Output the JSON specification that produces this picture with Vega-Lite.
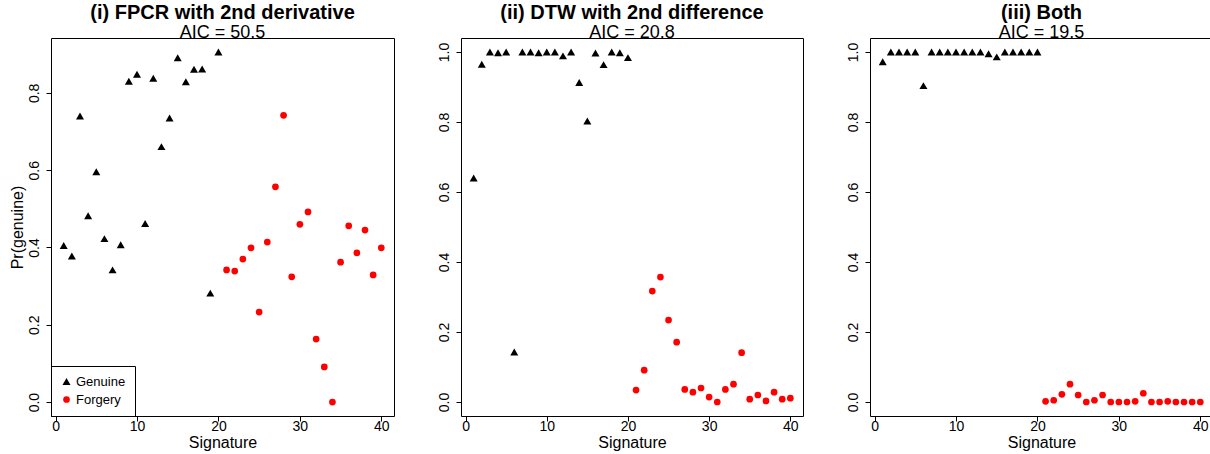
{
  "$schema": "https://vega.github.io/schema/vega-lite/v6.json",
  "background": "white",
  "padding": {"left": 8, "top": 2, "right": 0, "bottom": 0},
  "bounds": "flush",
  "spacing": 67,
  "config": {
    "font": "Liberation Sans",
    "view": {"stroke": "black", "strokeWidth": 1},
    "axis": {
      "domain": false, "grid": false, "ticks": true, "tickSize": 5, "tickColor": "black",
      "labelFont": "Liberation Sans", "labelFontSize": 14, "labelColor": "black",
      "titleFont": "Liberation Sans", "titleFontSize": 16, "titleFontWeight": "normal", "titleColor": "black"
    },
    "title": {
      "font": "Liberation Sans", "fontSize": 20, "fontWeight": "bold", "color": "black", "anchor": "middle",
      "subtitleFont": "Liberation Sans", "subtitleFontSize": 18, "subtitleColor": "black", "subtitlePadding": 1, "offset": -4
    },
    "legend": {
      "labelFont": "Liberation Sans", "labelFontSize": 13, "labelColor": "black"
    }
  },
  "datasets": {
    "fpcr": [
      {"sig": 1, "p": 0.405, "type": "Genuine"}, {"sig": 2, "p": 0.378, "type": "Genuine"},
      {"sig": 3, "p": 0.740, "type": "Genuine"}, {"sig": 4, "p": 0.482, "type": "Genuine"},
      {"sig": 5, "p": 0.596, "type": "Genuine"}, {"sig": 6, "p": 0.423, "type": "Genuine"},
      {"sig": 7, "p": 0.342, "type": "Genuine"}, {"sig": 8, "p": 0.407, "type": "Genuine"},
      {"sig": 9, "p": 0.830, "type": "Genuine"}, {"sig": 10, "p": 0.848, "type": "Genuine"},
      {"sig": 11, "p": 0.462, "type": "Genuine"}, {"sig": 12, "p": 0.838, "type": "Genuine"},
      {"sig": 13, "p": 0.661, "type": "Genuine"}, {"sig": 14, "p": 0.735, "type": "Genuine"},
      {"sig": 15, "p": 0.891, "type": "Genuine"}, {"sig": 16, "p": 0.829, "type": "Genuine"},
      {"sig": 17, "p": 0.861, "type": "Genuine"}, {"sig": 18, "p": 0.862, "type": "Genuine"},
      {"sig": 19, "p": 0.282, "type": "Genuine"}, {"sig": 20, "p": 0.906, "type": "Genuine"},
      {"sig": 21, "p": 0.342, "type": "Forgery"}, {"sig": 22, "p": 0.339, "type": "Forgery"},
      {"sig": 23, "p": 0.370, "type": "Forgery"}, {"sig": 24, "p": 0.399, "type": "Forgery"},
      {"sig": 25, "p": 0.233, "type": "Forgery"}, {"sig": 26, "p": 0.414, "type": "Forgery"},
      {"sig": 27, "p": 0.557, "type": "Forgery"}, {"sig": 28, "p": 0.742, "type": "Forgery"},
      {"sig": 29, "p": 0.324, "type": "Forgery"}, {"sig": 30, "p": 0.460, "type": "Forgery"},
      {"sig": 31, "p": 0.492, "type": "Forgery"}, {"sig": 32, "p": 0.163, "type": "Forgery"},
      {"sig": 33, "p": 0.091, "type": "Forgery"}, {"sig": 34, "p": 0.000, "type": "Forgery"},
      {"sig": 35, "p": 0.362, "type": "Forgery"}, {"sig": 36, "p": 0.456, "type": "Forgery"},
      {"sig": 37, "p": 0.386, "type": "Forgery"}, {"sig": 38, "p": 0.445, "type": "Forgery"},
      {"sig": 39, "p": 0.329, "type": "Forgery"}, {"sig": 40, "p": 0.399, "type": "Forgery"}
    ],
    "dtw": [
      {"sig": 1, "p": 0.640, "type": "Genuine"}, {"sig": 2, "p": 0.965, "type": "Genuine"},
      {"sig": 3, "p": 1.000, "type": "Genuine"}, {"sig": 4, "p": 0.998, "type": "Genuine"},
      {"sig": 5, "p": 1.000, "type": "Genuine"}, {"sig": 6, "p": 0.143, "type": "Genuine"},
      {"sig": 7, "p": 1.000, "type": "Genuine"}, {"sig": 8, "p": 1.000, "type": "Genuine"},
      {"sig": 9, "p": 0.998, "type": "Genuine"}, {"sig": 10, "p": 1.000, "type": "Genuine"},
      {"sig": 11, "p": 1.000, "type": "Genuine"}, {"sig": 12, "p": 0.989, "type": "Genuine"},
      {"sig": 13, "p": 1.000, "type": "Genuine"}, {"sig": 14, "p": 0.913, "type": "Genuine"},
      {"sig": 15, "p": 0.803, "type": "Genuine"}, {"sig": 16, "p": 0.997, "type": "Genuine"},
      {"sig": 17, "p": 0.964, "type": "Genuine"}, {"sig": 18, "p": 1.000, "type": "Genuine"},
      {"sig": 19, "p": 0.998, "type": "Genuine"}, {"sig": 20, "p": 0.984, "type": "Genuine"},
      {"sig": 21, "p": 0.034, "type": "Forgery"}, {"sig": 22, "p": 0.091, "type": "Forgery"},
      {"sig": 23, "p": 0.317, "type": "Forgery"}, {"sig": 24, "p": 0.357, "type": "Forgery"},
      {"sig": 25, "p": 0.234, "type": "Forgery"}, {"sig": 26, "p": 0.171, "type": "Forgery"},
      {"sig": 27, "p": 0.036, "type": "Forgery"}, {"sig": 28, "p": 0.028, "type": "Forgery"},
      {"sig": 29, "p": 0.040, "type": "Forgery"}, {"sig": 30, "p": 0.014, "type": "Forgery"},
      {"sig": 31, "p": 0.000, "type": "Forgery"}, {"sig": 32, "p": 0.036, "type": "Forgery"},
      {"sig": 33, "p": 0.051, "type": "Forgery"}, {"sig": 34, "p": 0.141, "type": "Forgery"},
      {"sig": 35, "p": 0.008, "type": "Forgery"}, {"sig": 36, "p": 0.020, "type": "Forgery"},
      {"sig": 37, "p": 0.003, "type": "Forgery"}, {"sig": 38, "p": 0.028, "type": "Forgery"},
      {"sig": 39, "p": 0.008, "type": "Forgery"}, {"sig": 40, "p": 0.011, "type": "Forgery"}
    ],
    "both": [
      {"sig": 1, "p": 0.972, "type": "Genuine"}, {"sig": 2, "p": 1.000, "type": "Genuine"},
      {"sig": 3, "p": 1.000, "type": "Genuine"}, {"sig": 4, "p": 1.000, "type": "Genuine"},
      {"sig": 5, "p": 1.000, "type": "Genuine"}, {"sig": 6, "p": 0.904, "type": "Genuine"},
      {"sig": 7, "p": 1.000, "type": "Genuine"}, {"sig": 8, "p": 1.000, "type": "Genuine"},
      {"sig": 9, "p": 1.000, "type": "Genuine"}, {"sig": 10, "p": 1.000, "type": "Genuine"},
      {"sig": 11, "p": 1.000, "type": "Genuine"}, {"sig": 12, "p": 1.000, "type": "Genuine"},
      {"sig": 13, "p": 1.000, "type": "Genuine"}, {"sig": 14, "p": 0.995, "type": "Genuine"},
      {"sig": 15, "p": 0.986, "type": "Genuine"}, {"sig": 16, "p": 1.000, "type": "Genuine"},
      {"sig": 17, "p": 1.000, "type": "Genuine"}, {"sig": 18, "p": 1.000, "type": "Genuine"},
      {"sig": 19, "p": 1.000, "type": "Genuine"}, {"sig": 20, "p": 1.000, "type": "Genuine"},
      {"sig": 21, "p": 0.002, "type": "Forgery"}, {"sig": 22, "p": 0.005, "type": "Forgery"},
      {"sig": 23, "p": 0.022, "type": "Forgery"}, {"sig": 24, "p": 0.051, "type": "Forgery"},
      {"sig": 25, "p": 0.020, "type": "Forgery"}, {"sig": 26, "p": 0.000, "type": "Forgery"},
      {"sig": 27, "p": 0.005, "type": "Forgery"}, {"sig": 28, "p": 0.020, "type": "Forgery"},
      {"sig": 29, "p": 0.000, "type": "Forgery"}, {"sig": 30, "p": 0.000, "type": "Forgery"},
      {"sig": 31, "p": 0.000, "type": "Forgery"}, {"sig": 32, "p": 0.002, "type": "Forgery"},
      {"sig": 33, "p": 0.025, "type": "Forgery"}, {"sig": 34, "p": 0.000, "type": "Forgery"},
      {"sig": 35, "p": 0.000, "type": "Forgery"}, {"sig": 36, "p": 0.002, "type": "Forgery"},
      {"sig": 37, "p": 0.000, "type": "Forgery"}, {"sig": 38, "p": 0.000, "type": "Forgery"},
      {"sig": 39, "p": 0.000, "type": "Forgery"}, {"sig": 40, "p": 0.000, "type": "Forgery"}
    ]
  },
  "resolve": {"legend": {"color": "independent", "shape": "independent", "size": "independent"}, "scale": {"y": "independent"}},
  "hconcat": [
    {
      "width": 343, "height": 378,
      "title": {"text": "(i) FPCR with 2nd derivative", "subtitle": "AIC = 50.5"},
      "data": {"name": "fpcr"},
      "mark": {"type": "point", "filled": true, "opacity": 1},
      "encoding": {
        "x": {"field": "sig", "type": "quantitative", "scale": {"domain": [-0.56, 41.56], "nice": false, "zero": false},
              "axis": {"title": "Signature", "values": [0, 10, 20, 30, 40], "labelPadding": -2, "titlePadding": 1}},
        "y": {"field": "p", "type": "quantitative", "scale": {"domain": [-0.036, 0.942], "nice": false, "zero": false},
              "axis": {"title": "Pr(genuine)", "values": [0, 0.2, 0.4, 0.6, 0.8], "format": ".1f", "labelAngle": -90, "labelPadding": 5, "titlePadding": 2}},
        "shape": {"field": "type", "type": "nominal", "scale": {"domain": ["Genuine", "Forgery"], "range": ["triangle-up", "circle"]},
                  "legend": {"title": null, "orient": "bottom-left", "offset": 0, "strokeColor": "black", "padding": 9, "symbolSize": 50, "labelOffset": 3, "rowPadding": 4, "symbolStrokeWidth": 0}},
        "color": {"field": "type", "type": "nominal", "scale": {"domain": ["Genuine", "Forgery"], "range": ["black", "#ff0000"]},
                  "legend": {"title": null, "orient": "bottom-left", "offset": 0, "strokeColor": "black", "padding": 9, "symbolSize": 50, "labelOffset": 3, "rowPadding": 4, "symbolStrokeWidth": 0}},
        "size": {"field": "type", "type": "nominal", "scale": {"domain": ["Genuine", "Forgery"], "range": [64, 45]}, "legend": null}
      }
    },
    {
      "width": 342, "height": 378,
      "title": {"text": "(ii) DTW with 2nd difference", "subtitle": "AIC = 20.8"},
      "data": {"name": "dtw"},
      "mark": {"type": "point", "filled": true, "opacity": 1},
      "encoding": {
        "x": {"field": "sig", "type": "quantitative", "scale": {"domain": [-0.56, 41.56], "nice": false, "zero": false},
              "axis": {"title": "Signature", "values": [0, 10, 20, 30, 40], "labelPadding": -2, "titlePadding": 1}},
        "y": {"field": "p", "type": "quantitative", "scale": {"domain": [-0.04, 1.04], "nice": false, "zero": false},
              "axis": {"title": null, "values": [0, 0.2, 0.4, 0.6, 0.8, 1.0], "format": ".1f", "labelAngle": -90, "labelPadding": 5}},
        "shape": {"field": "type", "type": "nominal", "scale": {"domain": ["Genuine", "Forgery"], "range": ["triangle-up", "circle"]}, "legend": null},
        "color": {"field": "type", "type": "nominal", "scale": {"domain": ["Genuine", "Forgery"], "range": ["black", "#ff0000"]}, "legend": null},
        "size": {"field": "type", "type": "nominal", "scale": {"domain": ["Genuine", "Forgery"], "range": [64, 45]}, "legend": null}
      }
    },
    {
      "width": 343, "height": 378,
      "title": {"text": "(iii) Both", "subtitle": "AIC = 19.5"},
      "data": {"name": "both"},
      "mark": {"type": "point", "filled": true, "opacity": 1},
      "encoding": {
        "x": {"field": "sig", "type": "quantitative", "scale": {"domain": [-0.56, 41.56], "nice": false, "zero": false},
              "axis": {"title": "Signature", "values": [0, 10, 20, 30, 40], "labelPadding": -2, "titlePadding": 1}},
        "y": {"field": "p", "type": "quantitative", "scale": {"domain": [-0.04, 1.04], "nice": false, "zero": false},
              "axis": {"title": null, "values": [0, 0.2, 0.4, 0.6, 0.8, 1.0], "format": ".1f", "labelAngle": -90, "labelPadding": 5}},
        "shape": {"field": "type", "type": "nominal", "scale": {"domain": ["Genuine", "Forgery"], "range": ["triangle-up", "circle"]}, "legend": null},
        "color": {"field": "type", "type": "nominal", "scale": {"domain": ["Genuine", "Forgery"], "range": ["black", "#ff0000"]}, "legend": null},
        "size": {"field": "type", "type": "nominal", "scale": {"domain": ["Genuine", "Forgery"], "range": [64, 45]}, "legend": null}
      }
    }
  ]
}
